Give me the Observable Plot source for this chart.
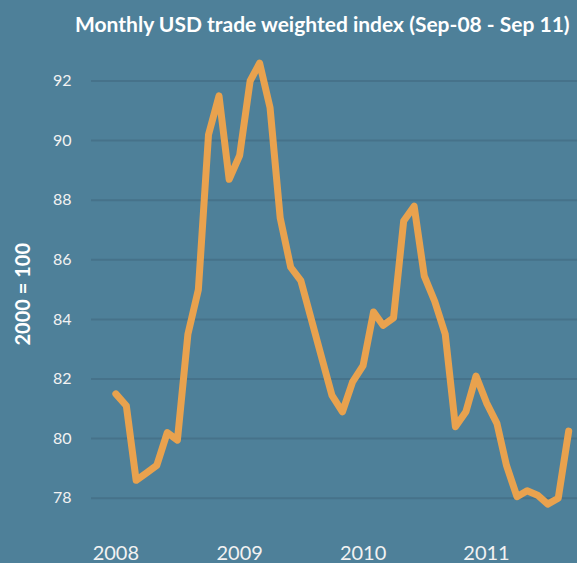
<!DOCTYPE html>
<html><head><meta charset="utf-8">
<script src="https://cdn.jsdelivr.net/npm/d3@7"></script>
<script src="https://cdn.jsdelivr.net/npm/@observablehq/plot@0.6"></script>
<style>
html,body{margin:0;padding:0;background:#4E8099;width:577px;height:563px;overflow:hidden}
#title{box-sizing:border-box;height:40px;padding:12px 0 0 75px;line-height:24px;font-family:Lato,sans-serif;font-weight:700;font-size:21px;color:#fff;white-space:nowrap}
#chart svg{display:block}
</style></head><body>
<div id="title">Monthly USD trade weighted index (Sep-08 - Sep 11)</div>
<div id="chart"></div>
<script>
const months = [
  "2008-01","2008-02","2008-03","2008-04","2008-05","2008-06","2008-07","2008-08","2008-09","2008-10","2008-11","2008-12",
  "2009-01","2009-02","2009-03","2009-04","2009-05","2009-06","2009-07","2009-08","2009-09","2009-10","2009-11","2009-12",
  "2010-01","2010-02","2010-03","2010-04","2010-05","2010-06","2010-07","2010-08","2010-09","2010-10","2010-11","2010-12",
  "2011-01","2011-02","2011-03","2011-04","2011-05","2011-06","2011-07","2011-08","2011-09"
];
const values = [
  81.5, 81.1, 78.6, 78.85, 79.1, 80.2, 79.95, 83.5, 85.0, 90.2, 91.5, 88.7,
  89.5, 92.0, 92.6, 91.1, 87.4, 85.75, 85.3, 84.0, 82.7, 81.45, 80.9, 81.9,
  82.45, 84.25, 83.8, 84.05, 87.3, 87.8, 85.45, 84.6, 83.5, 80.4, 80.9, 82.1,
  81.2, 80.5, 79.1, 78.05, 78.25, 78.1, 77.8, 78.0, 80.25
];
const yTicks = [78, 80, 82, 84, 86, 88, 90, 92];
const xTickYears = ["2008", "2009", "2010", "2011"];
const yLabel = "2000 = 100";

const data = months.map((m, i) => ({date: new Date(m + "-01T00:00:00Z"), value: values[i]}));
const xTicks = xTickYears.map(y => new Date(y + "-01-01T00:00:00Z"));

const plot = Plot.plot({
  width: 577, height: 523,
  marginLeft: 91, marginRight: 0, marginTop: 10, marginBottom: 30,
  style: {background: "#4E8099", color: "#fff", fontFamily: "Lato, sans-serif", overflow: "visible"},
  x: {type: "utc", domain: [new Date(Date.UTC(2007, 9, 21)), new Date(Date.UTC(2011, 8, 27))]},
  y: {domain: [76.815, 93.0235]},
  marks: [
    Plot.gridY(yTicks, {stroke: "#46728A", strokeOpacity: 1, strokeWidth: 2}),
    Plot.axisY(yTicks, {tickSize: 0, tickPadding: 20, fontSize: 16, fill: "#f2f2f2", label: null}),
    Plot.axisX(xTicks, {tickSize: 0, tickPadding: 12, fontSize: 20, fill: "#f2f2f2", label: null, tickFormat: d3.utcFormat("%Y")}),
    Plot.line(data, {x: "date", y: "value", stroke: "#E9A24E", strokeWidth: 7, strokeLinejoin: "round"}),
    Plot.text([yLabel], {frameAnchor: "left", rotate: -90, dx: -68, dy: 53.5, fontSize: 20, fontWeight: "bold", fill: "#fff"})
  ]
});
document.getElementById("chart").appendChild(plot);
</script>
</body></html>
